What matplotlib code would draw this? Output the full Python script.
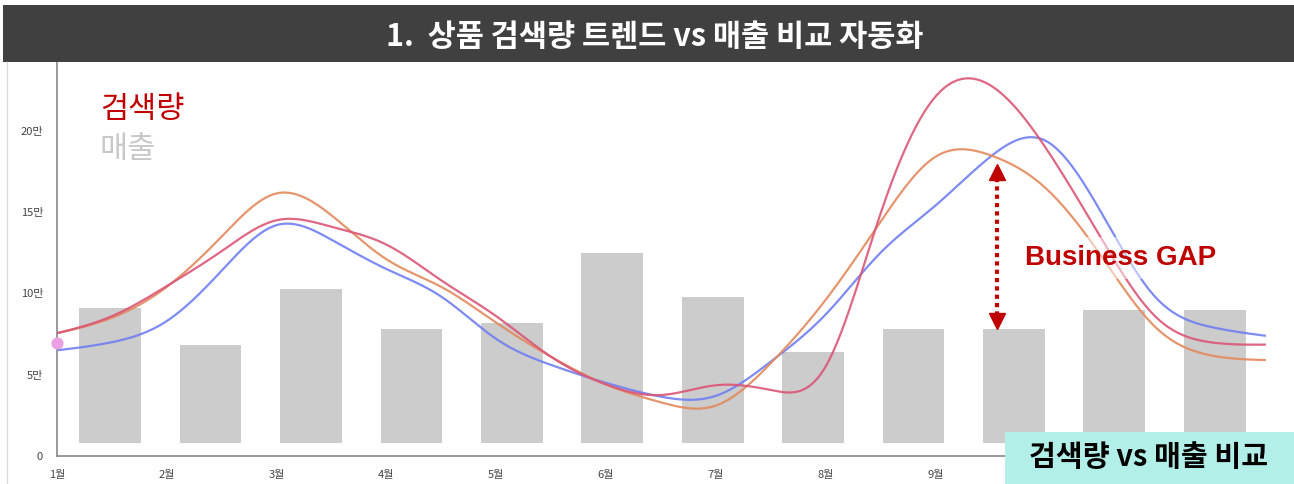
import numpy as np
import matplotlib
matplotlib.use('Agg')
import matplotlib.pyplot as plt
from matplotlib.patches import Rectangle
from matplotlib.lines import Line2D

plt.rcParams['font.family'] = ['Noto Sans CJK KR', 'DejaVu Sans']

# ---- data (values in 만, read every half month) ----
months = ['1월', '2월', '3월', '4월', '5월', '6월', '7월', '8월', '9월', '10월', '11월', '12월']
y_ticks = [0, 5, 10, 15, 20]
y_labels = ['0', '5만', '10만', '15만', '20만']
t = np.arange(0, 11.01, 0.5)  # 1월 .. 12월, half-month steps
search_blue = [6.5, 7.0, 8.3, 11.4, 14.2, 13.3, 11.5, 9.8, 7.2, 5.6, 4.5, 3.65, 3.7,
               5.8, 8.7, 12.5, 15.4, 18.4, 19.4, 15.1, 9.8, 7.95, 7.4]
search_orange = [7.55, 8.5, 10.4, 13.5, 16.15, 14.8, 12.1, 10.4, 8.2, 6.1, 4.4, 3.3, 3.1,
                 5.7, 9.6, 14.4, 18.4, 18.5, 16.5, 12.4, 7.95, 6.2, 5.9]
search_red = [7.55, 8.6, 10.45, 12.6, 14.5, 14.1, 13.0, 10.8, 8.6, 6.1, 4.4, 3.75, 4.35,
              4.06, 5.5, 14.9, 22.1, 22.8, 19.0, 13.5, 8.6, 7.0, 6.85]
sales = [8.3, 6.0, 9.5, 7.0, 7.4, 11.7, 9.0, 5.6, 7.0, 7.0, 8.2, 8.2]
highlight = (0, 6.95)


def smooth(x, y, n=600):
    # natural cubic spline through the points
    x = np.asarray(x, float)
    y = np.asarray(y, float)
    k = len(x)
    h = np.diff(x)
    A = np.zeros((k, k))
    r = np.zeros(k)
    A[0, 0] = A[-1, -1] = 1
    for i in range(1, k - 1):
        A[i, i - 1] = h[i - 1]
        A[i, i] = 2 * (h[i - 1] + h[i])
        A[i, i + 1] = h[i]
        r[i] = 3 * ((y[i + 1] - y[i]) / h[i] - (y[i] - y[i - 1]) / h[i - 1])
    c = np.linalg.solve(A, r)
    xs = np.linspace(x[0], x[-1], n)
    idx = np.clip(np.searchsorted(x, xs) - 1, 0, k - 2)
    dx = xs - x[idx]
    b = (y[1:] - y[:-1]) / h - h * (2 * c[:-1] + c[1:]) / 3
    d = (c[1:] - c[:-1]) / (3 * h)
    ys = y[idx] + b[idx] * dx + c[idx] * dx ** 2 + d[idx] * dx ** 3
    return xs, ys


W, H = 1294, 484
fig = plt.figure(figsize=(W / 100, H / 100), dpi=100)

# title bar
fig.add_artist(Rectangle((3 / W, (H - 62) / H), 1, 57 / H, transform=fig.transFigure,
                         facecolor='#404040', edgecolor='none'))
fig.text(655 / W, (H - 37) / H, '1.  상품 검색량 트렌드 vs 매출 비교 자동화', color='white',
         fontsize=22, fontweight='bold', ha='center', va='center')
fig.add_artist(Line2D([7 / W, 7 / W], [0, (H - 62) / H], transform=fig.transFigure,
                      color='#dddddd', lw=1))

rect = [57 / W, 28 / H, (W - 57) / W, (456 - 62) / H]

# bars (매출) on their own band scale
axb = fig.add_axes(rect)
axb.bar(np.arange(len(sales)), sales, width=0.615, color='#cccccc', zorder=1)
axb.set_xlim(-0.53, 11.79)
axb.set_ylim(-0.8, 24.23 - 0.8)
axb.axis('off')

# lines (검색량)
ax = fig.add_axes(rect)
ax.patch.set_visible(False)
for vals, col in [(search_blue, '#6f7ff2'), (search_orange, '#e38a5e'), (search_red, '#db5677')]:
    xs, ys = smooth(t, vals)
    ax.plot(xs, ys, color=col, lw=1.6, alpha=0.9)
ax.scatter([highlight[0]], [highlight[1]], s=60, color='#eaa0e2', zorder=5, clip_on=False)

ax.set_xlim(0, (W - 57) / 109.8)
ax.set_ylim(0, (456 - 62) / 16.26)
ax.set_xticks(np.arange(len(months)))
ax.set_xticklabels(months, fontsize=8, color='#444444')
ax.set_yticks(y_ticks)
ax.set_yticklabels(y_labels, fontsize=8, color='#444444')
ax.tick_params(length=0, pad=10)
for s in ['top', 'right']:
    ax.spines[s].set_visible(False)
for s in ['left', 'bottom']:
    ax.spines[s].set_color('#888888')
    ax.spines[s].set_linewidth(1.2)

# legend-like labels
fig.text(100 / W, (H - 110) / H, '검색량', color='#c00000', fontsize=22, fontweight='medium', va='center')
fig.text(100 / W, (H - 150) / H, '매출', color='#c8c8c8', fontsize=22, fontweight='medium', va='center')

# business gap annotation
ax_x = 997 / W
fig.add_artist(Line2D([ax_x, ax_x], [(H - 178) / H, (H - 316) / H], transform=fig.transFigure,
                      color='#c00000', lw=3, linestyle=(0, (1, 1))))
fig.add_artist(Line2D([ax_x], [(H - 172) / H], transform=fig.transFigure, marker='^',
                      markersize=11, color='#c00000', lw=0))
fig.add_artist(Line2D([ax_x], [(H - 321) / H], transform=fig.transFigure, marker='v',
                      markersize=11, color='#c00000', lw=0))
fig.text(1025 / W, (H - 258) / H, 'Business GAP', color='#c00000', fontsize=20,
         fontweight='bold', va='center', family=['Liberation Sans Narrow', 'Liberation Sans'],
         bbox=dict(facecolor='white', alpha=0.5, edgecolor='none', pad=6))

# bottom-right caption box
fig.add_artist(Rectangle((1005 / W, 0), (W - 1005) / W, 52 / H, transform=fig.transFigure,
                         facecolor='#b3efe9', edgecolor='none'))
fig.text(1149 / W, 27 / H, '검색량 vs 매출 비교', color='black', fontsize=21,
         fontweight='bold', ha='center', va='center')

fig.savefig('out.png', dpi=100)
